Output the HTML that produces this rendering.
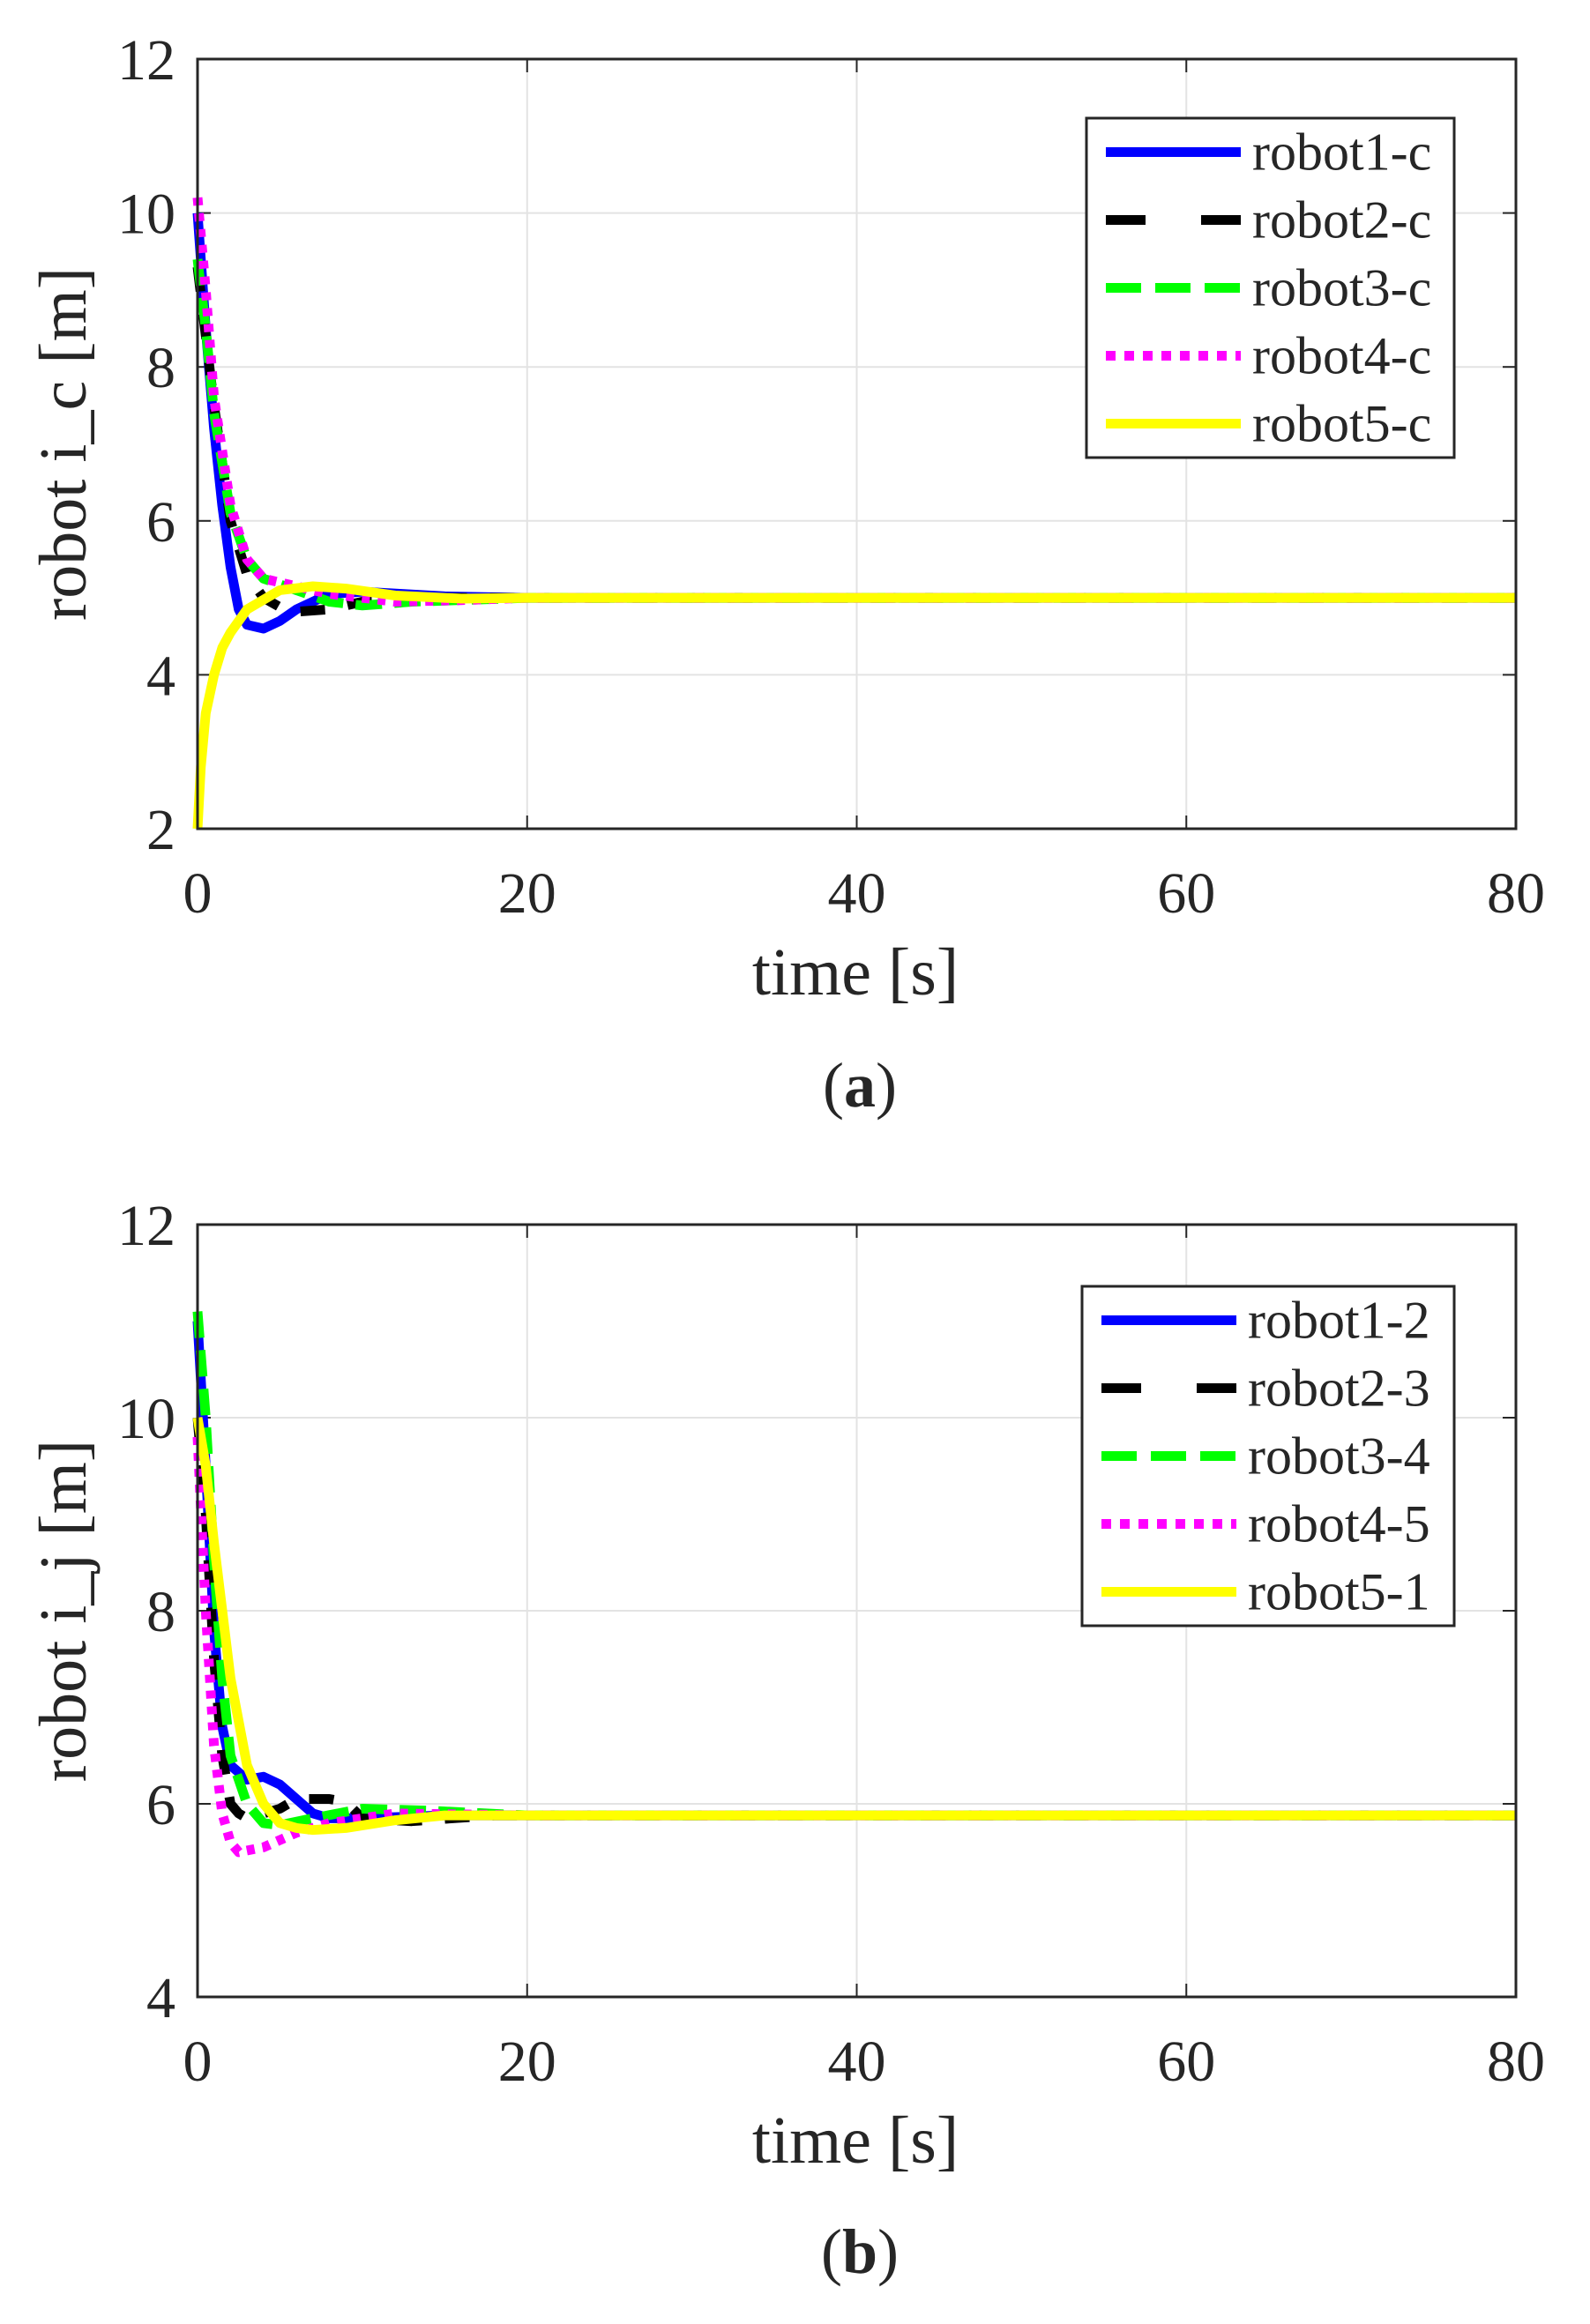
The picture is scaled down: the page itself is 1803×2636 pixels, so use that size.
<!DOCTYPE html>
<html><head><meta charset="utf-8"><style>
html,body{margin:0;padding:0;background:#fff;}
svg{display:block;}
text{font-family:"Liberation Serif",serif;fill:#262626;}
</style></head><body>
<svg id="s" width="1803" height="2636" viewBox="0 0 1803 2636" xmlns="http://www.w3.org/2000/svg">
<rect width="1803" height="2636" fill="#fff"/>
<g id="g"></g>
<text x="975" y="1255" font-size="72" text-anchor="middle">(<tspan font-weight="bold">a</tspan>)</text>
<text x="975" y="2578" font-size="72" text-anchor="middle">(<tspan font-weight="bold">b</tspan>)</text>
</svg>
<script>
var NS="http://www.w3.org/2000/svg",G=document.getElementById('g');
function el(t,a,txt){var e=document.createElementNS(NS,t);for(var k in a)e.setAttribute(k,a[k]);if(txt!==undefined)e.textContent=txt;G.appendChild(e);return e;}
function plot(o){
 var L=224,R=1719,T=o.top,B=o.bot;
 var X=function(t){return L+(R-L)*t/80;},Y=function(v){return B-(B-T)*(v-o.y0)/(o.y1-o.y0);};
 for(var t=0;t<=80;t+=20){el('line',{x1:X(t),x2:X(t),y1:T,y2:B,stroke:'#e3e3e3','stroke-width':2});}
 for(var v=o.y0;v<=o.y1;v+=2){el('line',{x1:L,x2:R,y1:Y(v),y2:Y(v),stroke:'#e3e3e3','stroke-width':2});}
 for(var t=0;t<=80;t+=20){el('line',{x1:X(t),x2:X(t),y1:B,y2:B-15,stroke:'#262626','stroke-width':2});el('line',{x1:X(t),x2:X(t),y1:T,y2:T+15,stroke:'#262626','stroke-width':2});
  el('text',{x:X(t),y:B+95,'font-size':66,'text-anchor':'middle'},''+t);}
 for(var v=o.y0;v<=o.y1;v+=2){el('line',{x1:L,x2:L+15,y1:Y(v),y2:Y(v),stroke:'#262626','stroke-width':2});el('line',{x1:R,x2:R-15,y1:Y(v),y2:Y(v),stroke:'#262626','stroke-width':2});
  el('text',{x:L-25,y:Y(v)+23,'font-size':66,'text-anchor':'end'},''+v);}
 var sty=[{c:'#0000ff',d:''},{c:'#000',d:'28 26'},{c:'#00ff00',d:'30 14'},{c:'#ff00ff',d:'9 9'},{c:'#ffff00',d:''}];
 o.s.forEach(function(p,i){var pts=p.map(function(q){return X(q[0]).toFixed(1)+','+Y(q[1]).toFixed(1);}).join(' ');
  var a={points:pts,fill:'none',stroke:sty[i].c,'stroke-width':11,'stroke-linejoin':'round'};if(sty[i].d)a['stroke-dasharray']=sty[i].d;el('polyline',a);});
 el('rect',{x:L,y:T,width:R-L,height:B-T,fill:'none',stroke:'#262626','stroke-width':3});
 var lg=o.lg;el('rect',{x:lg[0],y:lg[1],width:lg[2]-lg[0],height:lg[3]-lg[1],fill:'#fff',stroke:'#262626','stroke-width':3});
 var h=(lg[3]-lg[1])/5;
 o.names.forEach(function(n,i){var y=lg[1]+h*(i+0.5);var a={x1:lg[0]+22,x2:lg[0]+175,y1:y,y2:y,stroke:sty[i].c,'stroke-width':11};if(sty[i].d)a['stroke-dasharray']=sty[i].d;
  if(i==1)a['stroke-dasharray']='45 63';if(i==2)a['stroke-dasharray']='40 16';if(i==3)a['stroke-dasharray']='11 10';
  el('line',a);el('text',{x:lg[0]+188,y:y+20,'font-size':60},n);});
 el('text',{x:970,y:o.bot+188,'font-size':76,'text-anchor':'middle'},'time [s]');
 var cy=(T+B)/2;el('text',{x:97,y:cy,'font-size':76,'text-anchor':'middle',transform:'rotate(-90 97 '+cy+')'},o.yl);
}
plot({top:67,bot:940,y0:2,y1:12,lg:[1232,134,1649,519],names:['robot1-c','robot2-c','robot3-c','robot4-c','robot5-c'],yl:'robot i_c [m]',
s:[
[[0,10],[0.5,8.5],[1,7.2],[1.5,6.2],[2,5.4],[2.5,4.85],[3,4.65],[4,4.6],[5,4.7],[6,4.85],[8,5.05],[10,5.08],[15,5.02],[20,5],[80,5]],
[[0,9.3],[1,7.5],[2,6],[3,5.3],[4,5.0],[5,4.88],[6,4.82],[8,4.85],[10,4.95],[15,5],[80,5]],
[[0,9.4],[0.5,8.5],[1,7.4],[2,6.1],[3,5.5],[4,5.25],[6,5.1],[8,4.95],[10,4.9],[13,4.95],[20,5],[80,5]],
[[0,10.2],[0.5,9],[1,7.6],[2,6.2],[3,5.5],[4,5.25],[6,5.15],[8,5.05],[12,4.95],[16,4.97],[20,5],[80,5]],
[[0,2],[0.2,2.8],[0.5,3.5],[1,4.0],[1.5,4.35],[2,4.55],[3,4.85],[5,5.1],[7,5.15],[9,5.12],[12,5.03],[16,4.99],[20,5],[80,5]]
]});
plot({top:1389,bot:2265,y0:4,y1:12,lg:[1227,1459,1649,1844],names:['robot1-2','robot2-3','robot3-4','robot4-5','robot5-1'],yl:'robot i_j [m]',
s:[
[[0,11],[0.5,9.5],[1,7.8],[1.5,6.8],[2,6.4],[3,6.25],[4,6.28],[5,6.2],[6,6.05],[7,5.9],[8,5.85],[10,5.85],[15,5.88],[80,5.88]],
[[0,10],[0.5,9],[1,7.5],[1.5,6.5],[2,6.0],[2.5,5.9],[3,5.85],[5,5.95],[6,6.05],[8,6.05],[9,6.02],[10,5.85],[13,5.82],[18,5.88],[80,5.88]],
[[0,11.1],[0.5,10],[1,8.5],[1.5,7.3],[2,6.5],[3,6.0],[4,5.8],[5,5.78],[7,5.85],[10,5.95],[14,5.93],[20,5.88],[80,5.88]],
[[0,9.8],[0.5,8],[1,6.6],[1.5,5.9],[2,5.6],[2.5,5.5],[4,5.55],[6,5.7],[8,5.8],[12,5.9],[20,5.88],[80,5.88]],
[[0,10],[0.5,9.5],[1,8.7],[2,7.3],[3,6.4],[4,6.0],[5,5.8],[6,5.75],[7,5.73],[9,5.75],[12,5.83],[15,5.88],[80,5.88]]
]});
</script>
</body></html>
